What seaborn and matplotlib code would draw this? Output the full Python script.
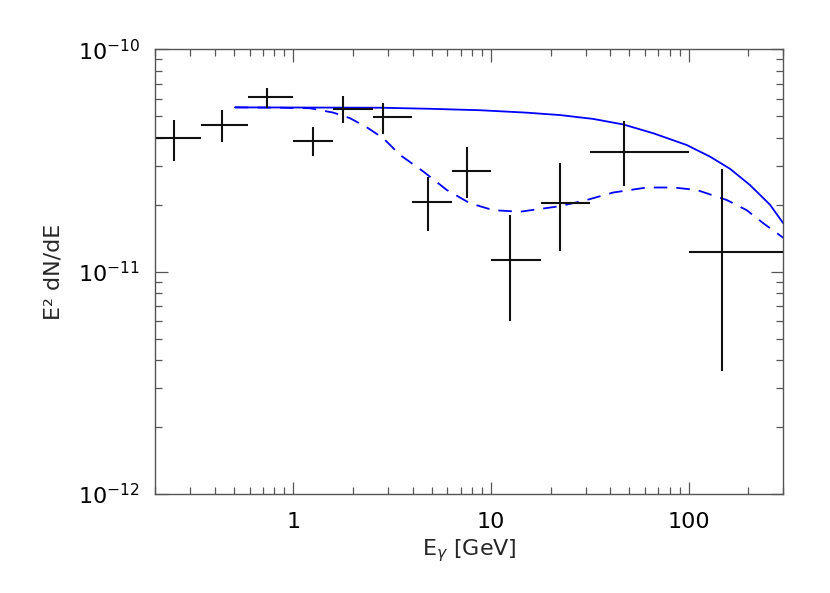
import numpy as np
import pandas as pd
import matplotlib
matplotlib.use("Agg")
import matplotlib.pyplot as plt
import seaborn as sns

# data points (energy bins, E^2 dN/dE with 1 sigma errors)
bin_lo = [0.2, 0.342, 0.587, 1.0, 1.585, 2.512, 3.981, 6.31, 10.0, 17.8, 31.6, 100.0]
bin_hi = [0.342, 0.587, 1.0, 1.585, 2.512, 3.981, 6.31, 10.0, 17.8, 31.6, 100.0, 300.0]
e_center = [0.249, 0.433, 0.732, 1.255, 1.78, 2.84, 4.77, 7.54, 12.5, 22.3, 47.0, 146.6]
flux = [3.99e-11, 4.57e-11, 6.08e-11, 3.88e-11, 5.41e-11, 4.94e-11,
        2.06e-11, 2.84e-11, 1.13e-11, 2.04e-11, 3.46e-11, 1.22e-11]
flux_hi = [4.81e-11, 5.33e-11, 6.68e-11, 4.46e-11, 6.18e-11, 5.72e-11,
           2.67e-11, 3.63e-11, 1.80e-11, 3.07e-11, 4.76e-11, 2.90e-11]
flux_lo = [3.16e-11, 3.82e-11, 5.46e-11, 3.32e-11, 4.65e-11, 4.16e-11,
           1.53e-11, 2.14e-11, 6.02e-12, 1.24e-11, 2.44e-11, 3.58e-12]

# model curves
solid_e = [0.506, 2.74, 4.9, 8.78, 15.0, 22.3, 32.9, 46.6, 66.1, 97.5,
           127.9, 161.4, 203.8, 257.0, 300.0]
solid_f = [5.48e-11, 5.46e-11, 5.40e-11, 5.32e-11, 5.19e-11, 5.06e-11,
           4.86e-11, 4.59e-11, 4.19e-11, 3.71e-11, 3.29e-11, 2.90e-11,
           2.45e-11, 2.0e-11, 1.65e-11]
dash_e = [0.506, 0.855, 1.212, 1.59, 1.93, 2.346, 2.847, 3.457, 4.535, 5.957,
          7.81, 10.25, 13.99, 22.3, 30.4, 41.5, 61.2, 83.4, 109.5, 155.4,
          196.0, 237.9, 300.0]
dash_f = [5.48e-11, 5.46e-11, 5.43e-11, 5.19e-11, 4.90e-11, 4.46e-11,
          3.98e-11, 3.35e-11, 2.82e-11, 2.33e-11, 2.03e-11, 1.89e-11,
          1.86e-11, 1.97e-11, 2.10e-11, 2.27e-11, 2.39e-11, 2.39e-11,
          2.33e-11, 2.10e-11, 1.89e-11, 1.65e-11, 1.42e-11]

x_ticks = [1, 10, 100]
y_ticks = [1e-12, 1e-11, 1e-10]

sns.set_theme(style="ticks")
plt.rcParams["font.family"] = ["DejaVu Sans"]
plt.rcParams["axes.edgecolor"] = "#555555"
plt.rcParams["xtick.color"] = "#555555"
plt.rcParams["ytick.color"] = "#555555"
plt.rcParams["xtick.labelcolor"] = "black"
plt.rcParams["ytick.labelcolor"] = "black"

fig = plt.figure(figsize=(8.3, 5.93), dpi=100)
ax = fig.add_axes([0.1871, 0.1669, 0.9437 - 0.1871, 0.9169 - 0.1669])

solid = pd.DataFrame({"E": solid_e, "F": solid_f})
dashed = pd.DataFrame({"E": dash_e, "F": dash_f})
sns.lineplot(data=solid, x="E", y="F", ax=ax, color="#0000ff", lw=1.3)
sns.lineplot(data=dashed, x="E", y="F", ax=ax, color="#0000ff", lw=1.3,
             dashes=False, linestyle=(0, (7.5, 5)))

xc = np.array(e_center)
yc = np.array(flux)
xerr = [xc - np.array(bin_lo), np.array(bin_hi) - xc]
yerr = [yc - np.array(flux_lo), np.array(flux_hi) - yc]
ax.errorbar(xc, yc, xerr=xerr, yerr=yerr, fmt="none", ecolor="#111111",
            elinewidth=1.5, capsize=0)

ax.set_xscale("log")
ax.set_yscale("log")
ax.set_xlim(0.2, 300)
ax.set_ylim(1e-12, 1e-10)
ax.set_xticks(x_ticks)
ax.set_xticklabels([str(t) for t in x_ticks])
ax.set_yticks(y_ticks)
ax.set_yticklabels([r"$10^{%d}$" % round(np.log10(t)) for t in y_ticks])

for s in ax.spines.values():
    s.set_linewidth(1.0)
ax.tick_params(which="both", direction="in", top=True, right=True,
               labelsize=16, width=0.9)
ax.tick_params(which="major", length=9)
ax.tick_params(which="minor", length=4.8)
ax.tick_params(axis="x", which="major", pad=13)
ax.tick_params(axis="y", which="major", pad=11)

ax.set_xlabel(r"E$_\gamma$ [GeV]", fontsize=16, labelpad=4)
ax.set_ylabel("E² dN/dE", fontsize=16, labelpad=10)

fig.savefig("out.png", dpi=100)
